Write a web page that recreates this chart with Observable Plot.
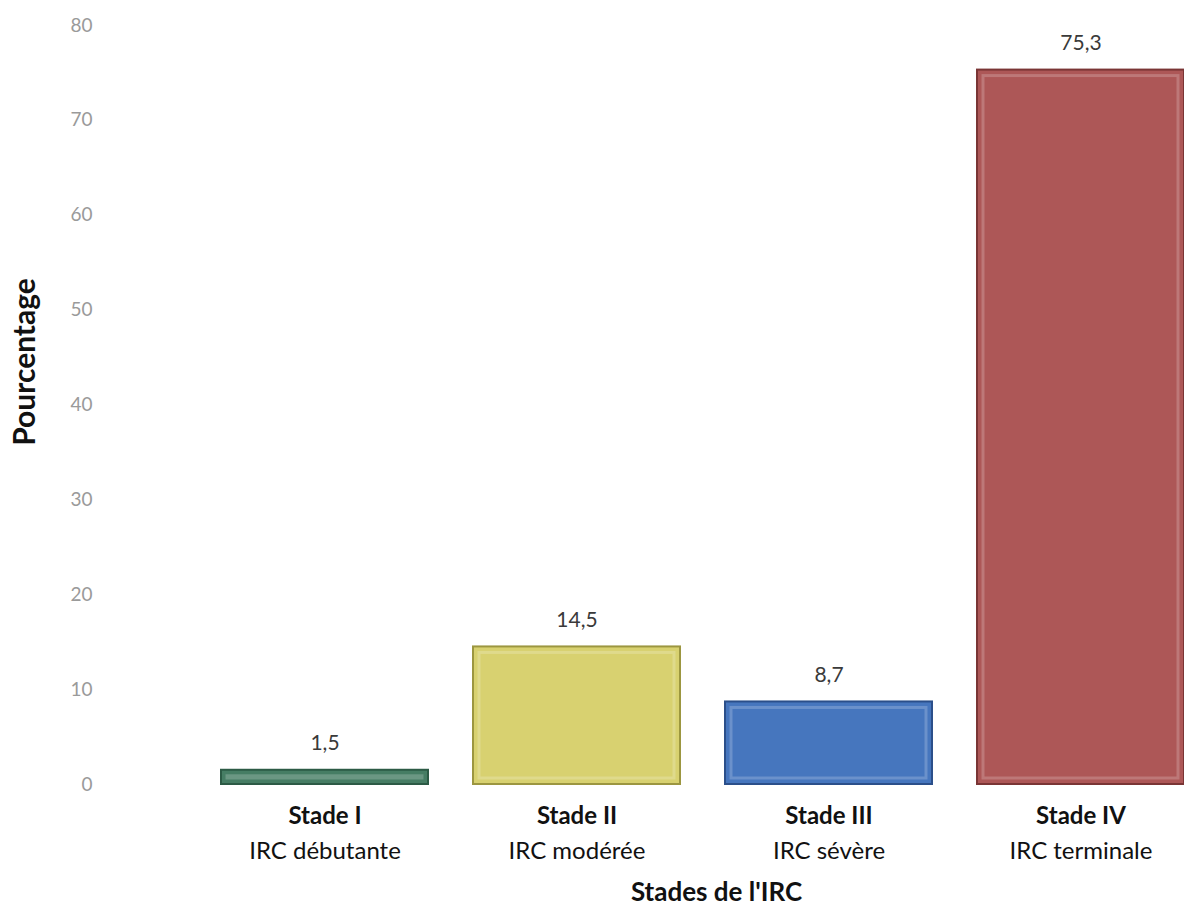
<!DOCTYPE html>
<html>
<head>
<meta charset="utf-8">
<script src="https://cdn.jsdelivr.net/npm/d3@7"></script>
<script src="https://cdn.jsdelivr.net/npm/@observablehq/plot@0.6"></script>
<style>
  html, body { margin: 0; padding: 0; background: #fff; }
  #chart svg { display: block; }
</style>
</head>
<body>
<div id="chart"></div>
<script>
const stages = ["Stade I", "Stade II", "Stade III", "Stade IV"];
const descriptions = ["IRC débutante", "IRC modérée", "IRC sévère", "IRC terminale"];
const values = [1.5, 14.5, 8.7, 75.3];
const colors = ["#467d64", "#d8d170", "#4676be", "#ad5757"];
const strokes = ["#2c5a45", "#9c9640", "#2b4f8a", "#7a3535"];
const yTicks = [0, 10, 20, 30, 40, 50, 60, 70, 80];

const data = stages.map((s, i) => ({stage: s, desc: descriptions[i], value: values[i]}));
const fr = d3.formatLocale({decimal: ",", thousands: " ", grouping: [3], currency: ["", ""]});
const fmt = fr.format(".1f");

const chart = Plot.plot({
  width: 1184,
  height: 911,
  marginTop: 25,
  marginBottom: 127,
  marginLeft: 100,
  marginRight: 0,
  style: {fontFamily: "Lato, 'Open Sans', sans-serif", fontSize: "16px", background: "#fff"},
  x: {domain: stages, paddingInner: 0.18, paddingOuter: 0.2325, align: 1, label: null},
  y: {domain: [0, 80], ticks: yTicks, label: null},
  color: {domain: stages, range: colors},
  marks: [
    Plot.barY(data, {x: "stage", y: "value", fill: "stage", stroke: d => strokes[stages.indexOf(d.stage)], strokeWidth: 2}),
    Plot.barY(data, {x: "stage", y: "value", fill: "none", stroke: "#ffffff", strokeOpacity: 0.2, strokeWidth: 3, inset: 6}),
    Plot.text(data, {x: "stage", y: "value", text: d => fmt(d.value), dy: -27, fill: "#3a3a3a", fontSize: 21}),
    Plot.axisY({ticks: yTicks, tickSize: 0, tickPadding: 8, fill: "#9a9a9a", fontSize: 19, label: null}),
    Plot.axisX({tickSize: 0, tickPadding: 22, fontWeight: "bold", fontSize: 24, fill: "#111", label: null}),
    Plot.axisX({tickSize: 0, tickPadding: 57, fontSize: 24, fill: "#111", tickFormat: d => descriptions[stages.indexOf(d)], label: null}),
    Plot.text(["Stades de l'IRC"], {frameAnchor: "bottom", lineAnchor: "middle", dx: 74, dy: 108, fontWeight: "bold", fontSize: 26, fill: "#111"}),
    Plot.text(["Pourcentage"], {frameAnchor: "left", textAnchor: "middle", lineAnchor: "middle", rotate: -90, dx: -75, dy: -43, fontWeight: "bold", fontSize: 30, fill: "#111"})
  ]
});
document.getElementById("chart").appendChild(chart);
</script>
</body>
</html>
